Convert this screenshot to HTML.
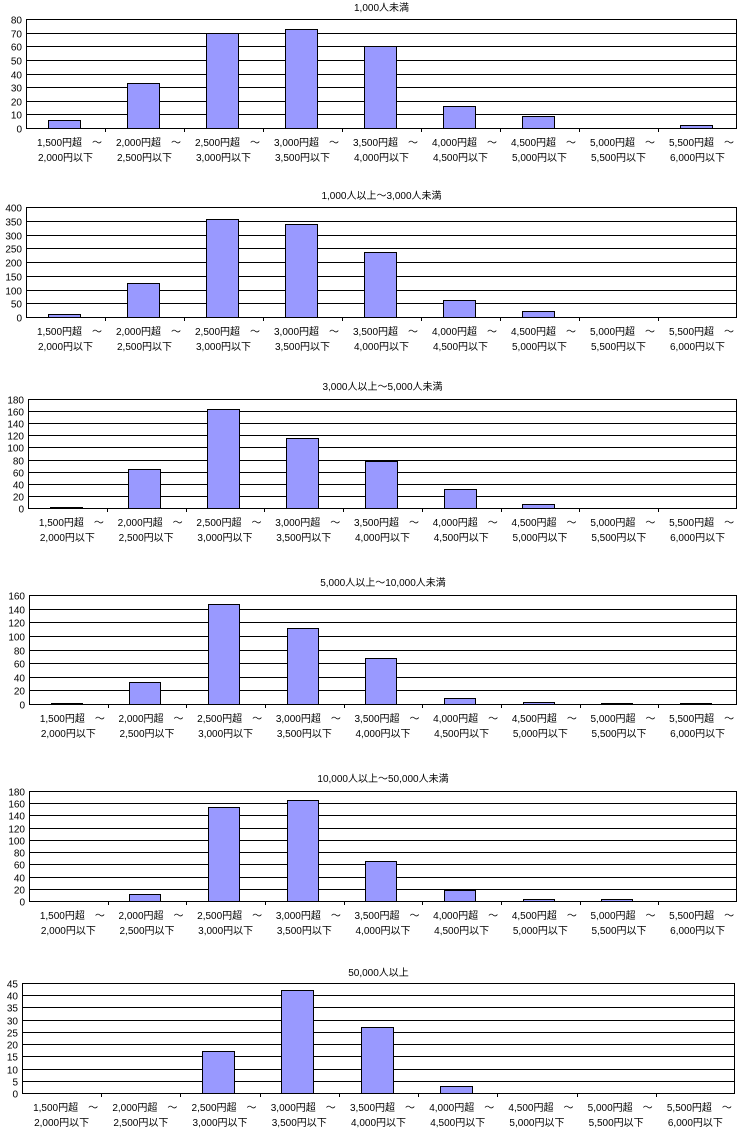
<!DOCTYPE html>
<html><head><meta charset="utf-8">
<style>
html,body{margin:0;padding:0;background:#fff;}
svg{display:block;}
text{font-family:"Liberation Sans","Noto Sans CJK JP",sans-serif;font-size:10px;fill:#000;}
</style></head>
<body>
<svg id="chart" width="738" height="1128" viewBox="0 0 738 1128"></svg>
<script>
const categoriesTop = ["1,500円超　～","2,000円超　～","2,500円超　～","3,000円超　～","3,500円超　～","4,000円超　～","4,500円超　～","5,000円超　～","5,500円超　～"];
const categoriesBottom = ["2,000円以下","2,500円以下","3,000円以下","3,500円以下","4,000円以下","4,500円以下","5,000円以下","5,500円以下","6,000円以下"];
const titles = ["1,000人未満","1,000人以上～3,000人未満","3,000人以上～5,000人未満","5,000人以上～10,000人未満","10,000人以上～50,000人未満","50,000人以上"];
const values1 = [6,33,70,73,60,16,9,0,2];
const values2 = [12,122,355,337,237,62,22,0,0];
const values3 = [2,65,163,115,78,31,7,0,0];
const values4 = [1,33,147,111,67,9,3,1,1];
const values5 = [0,11,154,165,66,18,3,3,0];
const values6 = [0,0,17,42,27,3,0,0,0];
const axisMax = [80,400,180,160,180,45];
const axisStep = [10,50,20,20,20,5];
const seriesList = [values1,values2,values3,values4,values5,values6];
const layout = [
 {l:26,r:737,t:19,b:128,ty:11},
 {l:26,r:737,t:207,b:317,ty:199},
 {l:28,r:737,t:399,b:508,ty:390},
 {l:29,r:737,t:595,b:704,ty:586},
 {l:29,r:737,t:791,b:901,ty:782},
 {l:22,r:735,t:983,b:1093,ty:976}
];
const NS="http://www.w3.org/2000/svg";
const svg=document.getElementById('chart');
function mk(tag,attrs,parent){const e=document.createElementNS(NS,tag);for(const k in attrs)e.setAttribute(k,attrs[k]);(parent||svg).appendChild(e);return e;}
seriesList.forEach((vals,pi)=>{
  const L=layout[pi];
  const g=mk('g',{});
  
  
  const n=categoriesTop.length;
  const cw=(L.r-L.l)/n;
  const y=v=>L.b-(v/axisMax[pi])*(L.b-L.t);
  const x=i=>L.l+i*cw;
  const t=mk('text',{x:(L.l+L.r)/2,y:L.ty,'text-anchor':'middle'},g);
  t.textContent=titles[pi];
  
  
  for(let v=0;v<=axisMax[pi];v+=axisStep[pi]){
    const yy=Math.round(y(v))+0.5;
    const gl=mk('line',{x1:L.l,x2:L.r,y1:yy,y2:yy,stroke:'#000','stroke-width':1},g);
    
    
    const tl=mk('text',{x:L.l-4,y:yy+4,'text-anchor':'end'},g);
    tl.textContent=v;
    
    
  }
  mk('line',{x1:L.l+0.5,x2:L.l+0.5,y1:L.t,y2:L.b,stroke:'#000'},g);
  mk('line',{x1:L.r-0.5,x2:L.r-0.5,y1:L.t,y2:L.b,stroke:'#000'},g);
  for(let i=1;i<n;i++){const xx=Math.round(x(i))+0.5;mk('line',{x1:xx,x2:xx,y1:L.b,y2:L.b+4,stroke:'#000'},g);}
  vals.forEach((v,i)=>{
    const bw=cw*0.4;
    const bx=Math.round(x(i)+cw/2-bw/2-2)+0.5;
    const by=Math.round(y(v))+0.5;
    if(v>0){
      const r=mk('rect',{x:bx,y:by,width:Math.round(bw),height:Math.max(0,L.b-by+0.5),fill:'#9999ff',stroke:'#000','stroke-width':1},g);
      
      
    }
    const c1=mk('text',{x:x(i)+cw/2+4,y:L.b+18,'text-anchor':'middle'},g);
    c1.textContent=categoriesTop[i];
    
    
    const c2=mk('text',{x:x(i)+cw/2,y:L.b+33,'text-anchor':'middle'},g);
    c2.textContent=categoriesBottom[i];
    
    
  });
});
</script>
</body></html>
